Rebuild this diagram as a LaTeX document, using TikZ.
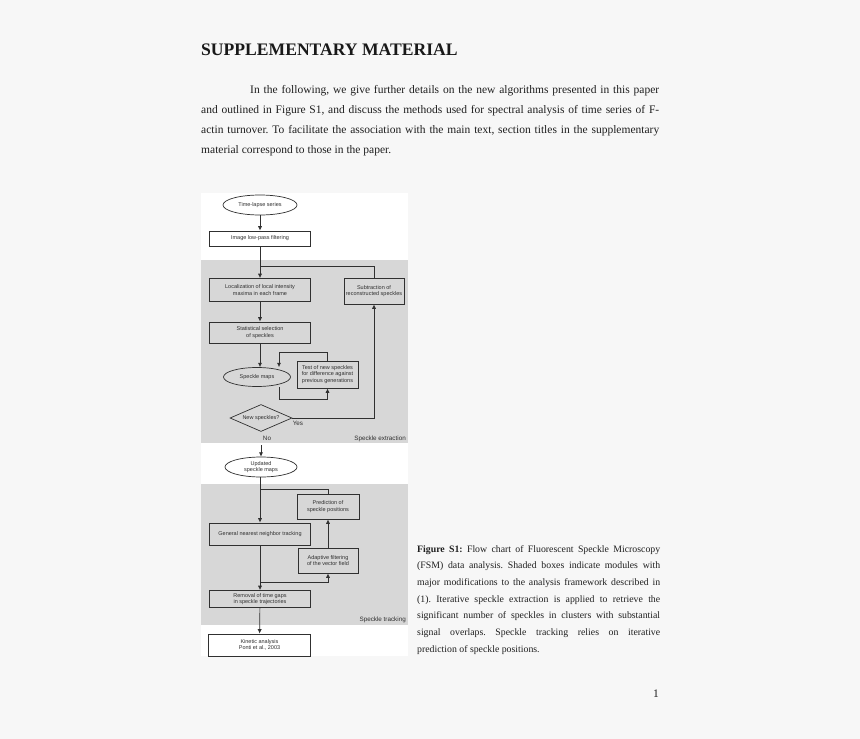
\documentclass[tikz,border=0pt]{standalone}
\usepackage{fontspec}
\setmainfont{Liberation Serif}
\setsansfont{Liberation Sans}
\usetikzlibrary{shapes.geometric}
\usetikzlibrary{arrows.meta}

\definecolor{pagebg}{HTML}{F7F7F7}
\definecolor{panelgray}{HTML}{D7D7D7}
\definecolor{linegray}{HTML}{303030}

\newcommand{\figfont}{\sffamily\fontsize{5.5}{6.6}\selectfont}
\newcommand{\fullline}[2]{\makebox[#1][s]{#2}}
\frenchspacing

\begin{document}
\begin{tikzpicture}[x=1pt,y=-1pt,
    box/.style={draw=linegray, line width=0.85pt, fill=white, inner sep=0pt, font=\figfont, align=center, text=linegray},
    shaded/.style={box, fill=panelgray},
    oval/.style={ellipse, draw=linegray, line width=0.7pt, fill=white, inner sep=0pt, font=\figfont, align=center, text=linegray},
    arr/.style={-{Latex[length=4.4pt,width=4.2pt]}, draw=linegray, line width=0.7pt},
    link/.style={draw=linegray, line width=0.7pt},
    bodyline/.style={anchor=base west, inner sep=0pt, font=\fontsize{11.5}{13}\selectfont, text=black!88},
    capline/.style={anchor=base west, inner sep=0pt, font=\fontsize{9.8}{11}\selectfont, text=black!88},
    tag/.style={inner sep=0pt, font=\sffamily\fontsize{6.3}{7}\selectfont, text=linegray}]
    \fill[pagebg] (0,0) rectangle (860,739);
    \useasboundingbox (0,0) rectangle (860,739);

    % page text
    \node[anchor=base west, inner sep=0pt, font=\bfseries\fontsize{17.6}{20}\selectfont, text=black!90] (title) at (201,55) {SUPPLEMENTARY MATERIAL};
    \node[bodyline] (l1) at (250,93) {\fullline{409pt}{In the following, we give further details on the new algorithms presented in this paper}};
    \node[bodyline] (l2) at (201,113.3) {\fullline{458pt}{and outlined in Figure S1, and discuss the methods used for spectral analysis of time series of F-}};
    \node[bodyline] (l3) at (201,133.6) {\fullline{458pt}{actin turnover. To facilitate the association with the main text, section titles in the supplementary}};
    \node[bodyline] (l4) at (201,153.9) {material correspond to those in the paper.};

    % figure background and shaded modules
    \fill[white] (201,193) rectangle (408,656);
    \fill[panelgray] (201,260) rectangle (408,443);
    \fill[panelgray] (201,484) rectangle (408,625);

    % speckle extraction
    \node[oval, minimum width=74, minimum height=20] (tls) at (260,205) {Time-lapse series};
    \node[box, minimum width=101, minimum height=15] (filt) at (260,238.5) {Image low-pass filtering};
    \node[shaded, minimum width=101, minimum height=23] (loc) at (260,290) {Localization of local intensity\\maxima in each frame};
    \node[shaded, minimum width=60, minimum height=26] (sub) at (374,291) {Subtraction of\\reconstructed speckles};
    \node[shaded, minimum width=101, minimum height=21] (stat) at (260,332.5) {Statistical selection\\of speckles};
    \node[oval, fill=panelgray, minimum width=67, minimum height=19] (maps) at (257,377) {Speckle maps};
    \node[shaded, minimum width=61, minimum height=27] (test) at (327.5,374.5) {Test of new speckles\\for difference against\\previous generations};
    \node[diamond, draw=linegray, line width=0.7pt, fill=panelgray, aspect=2.3, inner sep=0pt, minimum width=62, minimum height=27, font=\figfont, text=linegray] (dia) at (261,418) {New speckles?};
    \node[tag] (yes) at (298,423.5) {Yes};
    \node[tag] (no) at (267,438) {No};
    \node[tag, anchor=base east] (ext) at (406,440.5) {Speckle extraction};
    \coordinate (j1) at (260,266);
    \coordinate (j2) at (261,445);

    \draw[arr] (tls) -- (filt);
    \draw[arr] (filt) -- (loc);
    \draw[link] (sub.north) |- (j1);
    \draw[arr] (loc) -- (stat);
    \draw[arr] (stat.south) -- (stat.south |- maps.north);
    \draw[arr] (test.north) -- ++(0,-8) -| ([xshift=22pt]maps.north);
    \draw[arr] ([xshift=22pt]maps.south) -- ++(0,12.5) -| (test.south);
    \draw[arr] (dia.east) -| (sub.south);

    % speckle tracking
    \node[oval, minimum width=72, minimum height=20] (upd) at (261,467) {Updated\\speckle maps};
    \node[shaded, minimum width=62, minimum height=25] (pred) at (328,506.5) {Prediction of\\speckle positions};
    \node[shaded, minimum width=101, minimum height=22] (gen) at (260,534) {General nearest neighbor tracking};
    \node[shaded, minimum width=60, minimum height=25] (adapt) at (328,560.5) {Adaptive filtering\\of the vector field};
    \node[shaded, minimum width=101, minimum height=17] (rem) at (260,599) {Removal of time gaps\\in speckle trajectories};
    \node[box, minimum width=102, minimum height=22] (kin) at (259.5,645) {Kinetic analysis\\Ponti et al., 2003};
    \node[tag, anchor=base east] (trk) at (406,621.5) {Speckle tracking};
    \coordinate (j3) at (260,489);
    \coordinate (j4) at (260,582);

    \draw[arr] (j2) -- (upd);
    \draw[arr] (upd.south -| gen.north) -- (gen.north);
    \draw[link] (pred.north) |- (j3);
    \draw[arr] (adapt) -- (pred);
    \draw[arr] (gen) -- (rem);
    \draw[arr] (j4) -| (adapt.south);
    \draw[arr] (rem) -- (kin);

    % caption
    \node[capline] (c1) at (417,552) {\fullline{243pt}{\textbf{Figure S1:} Flow chart of Fluorescent Speckle Microscopy}};
    \node[capline] (c2) at (417,568.7) {\fullline{243pt}{(FSM) data analysis. Shaded boxes indicate modules with}};
    \node[capline] (c3) at (417,585.4) {\fullline{243pt}{major modifications to the analysis framework described in}};
    \node[capline] (c4) at (417,602.1) {\fullline{243pt}{(1). Iterative speckle extraction is applied to retrieve the}};
    \node[capline] (c5) at (417,618.8) {\fullline{243pt}{significant number of speckles in clusters with substantial}};
    \node[capline] (c6) at (417,635.5) {\fullline{243pt}{signal overlaps. Speckle tracking relies on iterative}};
    \node[capline] (c7) at (417,652.2) {prediction of speckle positions.};

    \node[bodyline] (pg) at (653,697) {1};
\end{tikzpicture}
\end{document}
